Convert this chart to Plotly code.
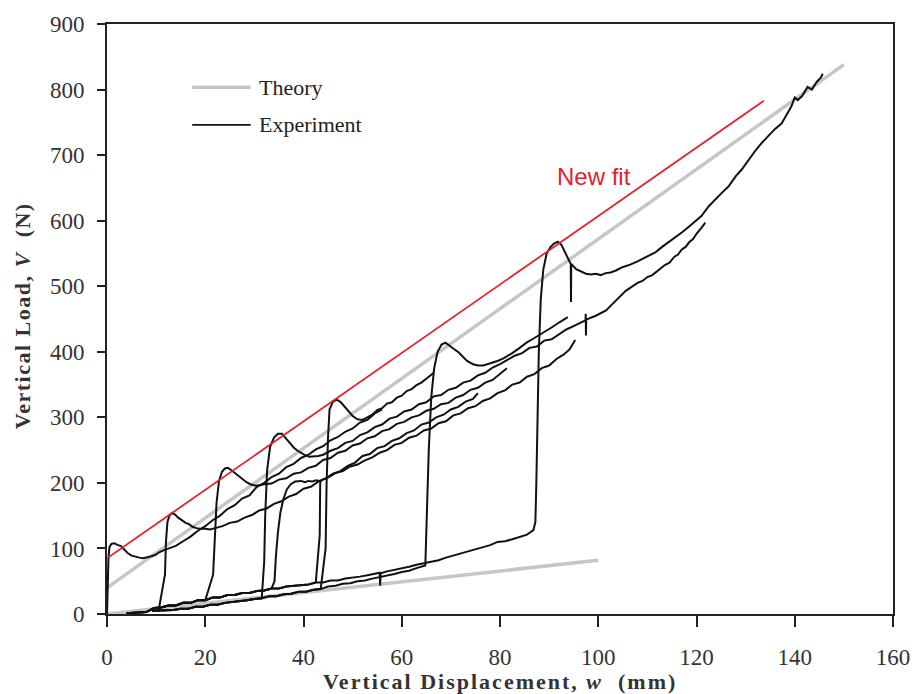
import plotly.graph_objects as go

# ---------------------------------------------------------------------------
# Vertical load V (N) against vertical displacement w (mm)
# ---------------------------------------------------------------------------

# Theory lines (upper: post-contact stiffness, lower: initial stiffness)
THEORY_UP_X = [0, 150]
THEORY_UP_Y = [40, 838]
THEORY_LOW_X = [0, 100]
THEORY_LOW_Y = [0, 82]

# New fit through the load peaks
FIT_X = [0, 133.7]
FIT_Y = [85, 783]

# Shared low-load branch before the jump (upper and lower edge of the band)
LOW_A_X = [4, 6, 8, 9.6, 11, 12.5, 14, 15.5, 17, 18.5, 20, 21.5, 23, 24.5, 26,
           27.5, 29, 30.5, 32, 33.5, 35, 36.5, 38, 39.5, 41, 42.5, 44, 45.5,
           47, 48.5, 50, 51.5, 53, 54.5, 55.5, 55.6, 55.7, 57, 58.5, 60, 61.5,
           63, 64.5, 66, 67.5, 69, 70.5, 72, 73.5, 75, 76.5, 78, 79.5, 81,
           82.5, 84, 85.5, 86.8]
LOW_A_Y = [1, 2, 3, 9, 10, 13, 13, 17, 17, 21, 21, 25, 25, 29, 29,
           32, 32, 35, 36, 39, 39, 42, 43, 45, 45, 48, 48, 51,
           51, 54, 55, 57, 59, 61, 63, 43, 62, 65, 67, 70, 72,
           75, 77, 80, 82, 86, 89, 93, 96, 98, 102, 105, 110, 111,
           114, 117, 121, 128]

LOW_B_X = [9.2, 10.5, 12, 13.5, 15, 16.5, 18, 19.5, 21, 22.5, 24, 25.5, 27,
           28.5, 30, 31.5, 33, 34.5, 36, 37.5, 39, 40.5, 42, 43.5, 45, 46.5,
           48, 49.5, 51, 52.5, 54, 55.5, 57, 58.5, 60, 61.5, 63, 64.8]
LOW_B_Y = [5, 5, 6, 6, 8, 8, 11, 11, 14, 14, 17, 18, 20, 21, 23, 24, 27,
           27, 30, 31, 34, 34, 37, 38, 42, 43, 46, 47, 50, 51, 54, 56, 59,
           61, 64, 66, 70, 74]

# Test 1: loaded from w = 0
T1_X = [0, 0.05, 0.15, 0.3, 0.5, 0.9, 1.5, 2.2, 2.8, 3.4, 4.2, 5.0, 5.8, 6.6,
        7.4, 8.2, 9.0, 9.8, 10.6, 11.5, 12.5, 14, 15.5, 17, 18.5, 20, 21.5,
        23, 24.5, 26, 27.5, 29, 30.5, 32, 33.5, 35, 36.5, 38, 39.5, 41, 42.5,
        44, 45.5, 47, 48.5, 50, 51.5, 53, 54.5, 56]
T1_Y = [0, 20, 55, 85, 102, 107, 108, 105, 104, 99, 93, 89, 87, 86,
        85, 86, 88, 90, 94, 97, 100, 104, 111, 118, 127, 134, 143,
        150, 160, 166, 176, 181, 194, 200, 209, 214, 224, 229, 238, 243, 251,
        256, 265, 270, 278, 283, 292, 296, 306, 312]

# Test 2: jump at w = 11.6
T2_JUMP = 11.6
T2_X = [11.8, 12.0, 12.3, 12.7, 13.2, 13.8, 14.5, 15.3, 16.0, 16.7, 17.4, 18.2,
        19.0, 20.0, 21.0, 22.0, 23.5, 25, 26.5, 28, 29.5, 31, 32.5, 34, 35.5,
        37, 38.5, 40, 41.5, 43, 44.5, 46, 47.5, 49, 50.5, 52, 53.5, 55, 56.5,
        58, 59.5, 61, 62.5, 64, 65.5, 67, 68.5, 70, 71.5, 73, 74.5, 75.5]
T2_Y = [60, 110, 140, 150, 154, 152, 147, 143, 139, 137, 133, 131,
        130, 130, 129, 131, 134, 139, 141, 147, 151, 158, 161, 168, 172,
        179, 183, 191, 194, 202, 207, 214, 218, 226, 231, 241, 244, 253, 256,
        264, 268, 276, 280, 289, 292, 300, 304, 312, 316, 324, 328, 337]

# Test 3: jump at w = 21.4
T3_JUMP = 21.4
T3_X = [21.6, 21.9, 22.3, 22.8, 23.4, 24.0, 24.6, 25.2, 26.0, 26.8, 27.6, 28.4,
        29.2, 30.0, 30.8, 32, 33.5, 35, 36.5, 38, 39.5, 41, 42.5, 44, 45.5,
        47, 48.5, 50, 51.5, 53, 54.5, 56, 57.5, 59, 60.5, 62, 63.5, 65, 66.5,
        68, 69.5, 71, 72.5, 74, 75.5, 77, 78.5, 80, 81.4]
T3_Y = [60, 120, 170, 203, 217, 222, 223, 220, 215, 210, 205, 201,
        198, 196, 196, 198, 199, 205, 207, 214, 216, 223, 226, 235, 238,
        246, 249, 257, 260, 268, 271, 279, 282, 290, 293, 300, 303, 310, 313,
        320, 322, 330, 334, 342, 345, 353, 357, 366, 375]

# Test 4: jump at w = 31.9, continues to the largest displacement of the band
T4_JUMP = 31.9
T4_X = [32.0, 32.2, 32.6, 33.2, 34.0, 34.8, 35.6, 36.4, 37.2, 38.0, 38.8, 39.6,
        40.4, 41.2, 42.0, 43.0, 44, 45.5, 47, 48.5, 50, 51.5, 53, 54.5, 56,
        57.5, 59, 60.5, 62, 63.5, 65, 66.5, 68, 69.5, 71, 72.5, 74, 75.5, 77,
        78.5, 80, 81.5, 83, 84.5, 86, 87.5, 89, 90.5, 92, 93.5, 95.5, 97.4,
        97.45, 97.5, 97.55, 99.5, 101.6, 102.5, 103.6, 104.5, 105.6, 106.8,
        108, 109, 110, 111, 111.7, 112.5, 113.5, 114.5, 115.5, 116.2, 117,
        117.8, 118.5, 119.3, 120, 121, 121.8]
T4_Y = [80, 150, 220, 255, 269, 275, 275, 268, 261, 254, 249, 245,
        242, 240, 240, 241, 243, 249, 253, 261, 264, 273, 277, 285, 289,
        298, 301, 309, 312, 320, 323, 332, 334, 342, 345, 353, 356, 364, 368,
        376, 381, 387, 394, 398, 406, 408, 417, 419, 427, 434, 441, 448,
        458, 425, 449, 455, 463, 470, 478, 485, 493, 499, 505, 508, 514, 517,
        521, 525, 532, 536, 545, 548, 556, 560, 567, 572, 580, 589, 597]

# Test 5: gradual rise from w = 34 to a plateau near 200 N
T5_JUMP = 33.8
T5_X = [34.1, 34.4, 34.8, 35.3, 35.9, 36.6, 37.4, 38.3, 39.5, 40.3, 41.0,
        41.8, 42.5, 43.4]
T5_Y = [50, 90, 125, 155, 175, 190, 198, 202, 203, 201, 203, 202, 204, 203]

# Test 6: jump at w = 44.6
T6_JUMP = 44.3
T6_X = [44.5, 44.7, 45.0, 45.3, 46.0, 46.8, 47.6, 48.4, 49.2, 50.0, 51.0, 52,
        53, 54, 55, 56, 57, 58, 59, 60, 61, 62, 63, 64, 65, 66.5]
T6_Y = [100, 200, 270, 312, 324, 327, 323, 316, 308, 302, 297, 296,
        300, 304, 311, 314, 321, 323, 330, 333, 340, 343, 349, 353, 359, 368]

# Test 7: jump at w = 43.3 onto the lowest branch
T7_JUMP = 43.1
T7_X = [43.3, 43.4, 43.6, 45, 46.5, 48, 49.5, 51, 52.4, 54, 55.5, 57, 58.5, 60,
        61.5, 63, 64.5, 66, 67.5, 69, 70.5, 72, 73.5, 75, 76.5, 78, 79.5, 81,
        82.5, 84, 85.5, 87, 88.5, 90, 91.5, 93, 94.2, 95.3]
T7_Y = [120, 200, 204, 208, 215, 218, 225, 228, 234, 239, 246, 250, 258, 261,
        269, 272, 280, 283, 291, 294, 303, 306, 314, 317, 325, 329, 337, 341,
        350, 353, 362, 366, 375, 379, 389, 396, 404, 418]

# Test 8: jump at w = 65
T8_JUMP = 64.9
T8_X = [65.1, 65.5, 66.0, 66.6, 67.3, 68.1, 68.9, 69.7, 70.5, 71.6, 72.5, 73.3,
        74.5, 75.5, 76.6, 78, 79.5, 80.7, 82.5, 84, 85.4, 87, 88.8, 90.5,
        92.1, 93.8]
T8_Y = [150, 250, 330, 375, 400, 411, 414, 410, 405, 399, 392, 386,
        381, 379, 379, 382, 386, 390, 398, 406, 414, 421, 429, 437, 445, 453]

# Test 9: jump at w = 87.4, carried to the end of the stroke
T9_JUMP = 87.0
T9_X = [87.2, 87.4, 87.6, 87.9, 88.3, 88.8, 89.5, 90.3, 91.0, 91.8, 92.5, 93.2,
        93.8, 94.4, 94.45, 94.5, 95.5, 96.5, 97.5, 98.5, 99.5, 100.5, 101.5,
        102.5, 103.6, 104.9, 106.5, 108, 109.5, 111, 111.7, 113, 114.5, 116,
        117, 118.5, 120, 121, 122.5, 124, 125.1, 126.5, 128, 129.2, 130.5,
        132, 133.2, 134.5, 136, 137.3, 138.3, 139.3, 140.0, 140.6, 141.5,
        142.6, 143.5, 144.5, 145.3, 145.7]
T9_Y = [140, 200, 300, 400, 480, 525, 550, 560, 565, 568, 563, 552,
        543, 534, 476, 534, 526, 522, 519, 518, 519, 517, 520,
        521, 524, 529, 533, 538, 544, 549, 552, 560, 568, 576,
        582, 591, 600, 607, 622, 634, 642, 652, 668, 678, 692,
        707, 718, 728, 740, 748, 762, 774, 788, 784, 790,
        804, 800, 812, 818, 824]

# X/Y axis tick values
X_TICKS = [0, 20, 40, 60, 80, 100, 120, 140, 160]
Y_TICKS = [0, 100, 200, 300, 400, 500, 600, 700, 800, 900]

BLACK = "#111111"
GREY = "#c6c6c6"
RED = "#e3232c"
SERIF = "Liberation Serif, Times New Roman, serif"


def prefixed(base_x, base_y, jump, xs, ys):
    """Low-load branch up to the jump, followed by the test's own points."""
    px = [x for x in base_x if x < jump]
    py = [y for x, y in zip(base_x, base_y) if x < jump]
    return px + xs, py + ys


experiments = [
    (T1_X, T1_Y),
    prefixed(LOW_B_X, LOW_B_Y, T2_JUMP, T2_X, T2_Y),
    prefixed(LOW_A_X, LOW_A_Y, T3_JUMP, T3_X, T3_Y),
    prefixed(LOW_B_X, LOW_B_Y, T4_JUMP, T4_X, T4_Y),
    prefixed(LOW_A_X, LOW_A_Y, T5_JUMP, T5_X, T5_Y),
    prefixed(LOW_B_X, LOW_B_Y, T6_JUMP, T6_X, T6_Y),
    prefixed(LOW_A_X, LOW_A_Y, T7_JUMP, T7_X, T7_Y),
    prefixed(LOW_B_X, LOW_B_Y, T8_JUMP, T8_X, T8_Y),
    prefixed(LOW_A_X, LOW_A_Y, T9_JUMP, T9_X, T9_Y),
]

fig = go.Figure()

for tx, ty in [(THEORY_UP_X, THEORY_UP_Y), (THEORY_LOW_X, THEORY_LOW_Y)]:
    fig.add_trace(go.Scatter(x=tx, y=ty, mode="lines", name="Theory",
                             line=dict(color=GREY, width=3.5),
                             showlegend=False, hoverinfo="skip"))

for ex, ey in experiments:
    fig.add_trace(go.Scatter(x=ex, y=ey, mode="lines", name="Experiment",
                             line=dict(color=BLACK, width=2),
                             showlegend=False, hoverinfo="skip"))

fig.add_trace(go.Scatter(x=FIT_X, y=FIT_Y, mode="lines", name="New fit",
                         line=dict(color=RED, width=1.8),
                         showlegend=False, hoverinfo="skip"))

# Hand-placed legend (long line samples, serif labels)
legend_rows = [("Theory", GREY, 3.5, 0.893), ("Experiment", BLACK, 1.8, 0.829)]
for label, colour, width, yy in legend_rows:
    fig.add_shape(type="line", xref="paper", yref="paper",
                  x0=0.1084, x1=0.1829, y0=yy, y1=yy,
                  line=dict(color=colour, width=width))
    fig.add_annotation(xref="paper", yref="paper", x=0.1904, y=yy,
                       text=label, showarrow=False, xanchor="left",
                       yanchor="middle",
                       font=dict(family=SERIF, size=22, color="#222222"))

fig.add_annotation(x=99.1, y=667, text="New fit", showarrow=False,
                   font=dict(family="Liberation Sans, Arial, sans-serif",
                             size=24, color=RED))

# Axis titles
fig.add_annotation(xref="paper", yref="paper", x=0.5, y=-0.115,
                   text='<span style="letter-spacing:2px"><b>Vertical Displacement, '
                        '<i>w</i>  (mm)</b></span>',
                   showarrow=False, xanchor="center", yanchor="middle",
                   font=dict(family=SERIF, size=22, color="#333333"))
fig.add_annotation(xref="paper", yref="paper", x=-0.108, y=0.505,
                   text='<span style="letter-spacing:1.5px"><b>Vertical Load, '
                        '<i>V</i>  (N)</b></span>',
                   showarrow=False, textangle=-90, xanchor="center",
                   yanchor="middle",
                   font=dict(family=SERIF, size=22, color="#333333"))

fig.update_xaxes(range=[0, 160], tickvals=X_TICKS, showgrid=False,
                 zeroline=False, showline=True, linecolor="#222222",
                 linewidth=2, mirror=True, ticks="outside", ticklen=11,
                 tickwidth=2, tickcolor="#222222", ticklabelstandoff=10,
                 tickfont=dict(family=SERIF, size=23, color="#333333"))
fig.update_yaxes(range=[0, 900], tickvals=Y_TICKS, showgrid=False,
                 zeroline=False, showline=True, linecolor="#222222",
                 linewidth=2, mirror=True, ticks="outside", ticklen=8,
                 tickwidth=2, tickcolor="#222222", ticklabelstandoff=8,
                 tickfont=dict(family=SERIF, size=23, color="#333333"))

fig.update_layout(width=922, height=694,
                  margin=dict(l=107, r=22, t=20, b=80),
                  paper_bgcolor="white", plot_bgcolor="white",
                  showlegend=False, hovermode=False)

fig.write_html("out.html", config={"displayModeBar": False})
